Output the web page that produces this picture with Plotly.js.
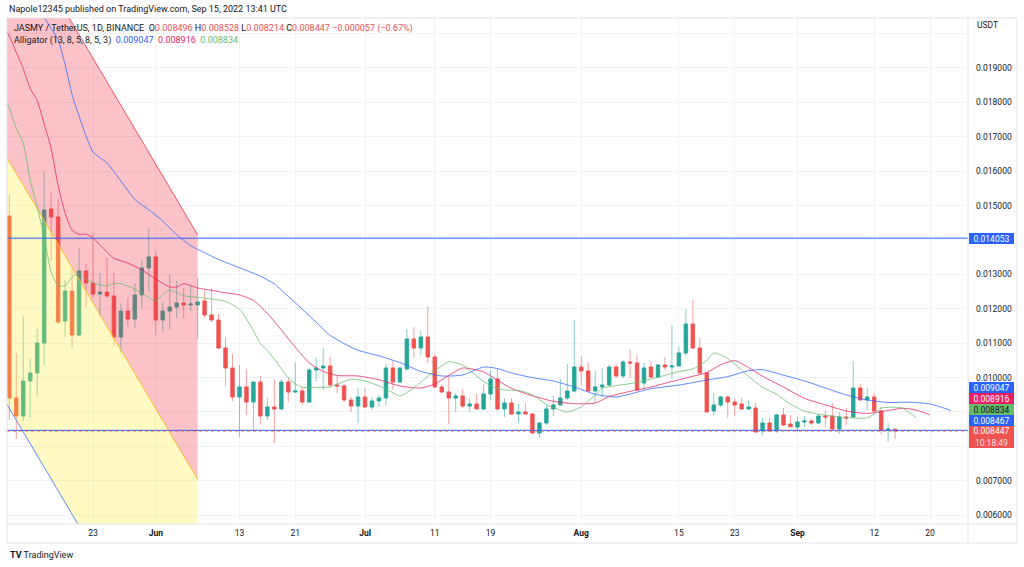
<!DOCTYPE html>
<html>
<head>
<meta charset="utf-8">
<script src="https://cdn.plot.ly/plotly-3.0.1.min.js"></script>
<style>html,body{margin:0;padding:0;background:#fff}#chart{width:1024px;height:567px}</style>
</head>
<body>
<div id="chart"></div>
<script>
// ---------------- DATA ----------------
const candleDates = [
'2022-05-11','2022-05-12','2022-05-13','2022-05-14','2022-05-15','2022-05-16','2022-05-17','2022-05-18','2022-05-19','2022-05-20','2022-05-21','2022-05-22','2022-05-23','2022-05-24','2022-05-25','2022-05-26','2022-05-27','2022-05-28','2022-05-29','2022-05-30','2022-05-31',
'2022-06-01','2022-06-02','2022-06-03','2022-06-04','2022-06-05','2022-06-06','2022-06-07','2022-06-08','2022-06-09','2022-06-10','2022-06-11','2022-06-12','2022-06-13','2022-06-14','2022-06-15','2022-06-16','2022-06-17','2022-06-18','2022-06-19','2022-06-20','2022-06-21','2022-06-22','2022-06-23','2022-06-24','2022-06-25','2022-06-26','2022-06-27','2022-06-28','2022-06-29','2022-06-30',
'2022-07-01','2022-07-02','2022-07-03','2022-07-04','2022-07-05','2022-07-06','2022-07-07','2022-07-08','2022-07-09','2022-07-10','2022-07-11','2022-07-12','2022-07-13','2022-07-14','2022-07-15','2022-07-16','2022-07-17','2022-07-18','2022-07-19','2022-07-20','2022-07-21','2022-07-22','2022-07-23','2022-07-24','2022-07-25','2022-07-26','2022-07-27','2022-07-28','2022-07-29','2022-07-30','2022-07-31',
'2022-08-01','2022-08-02','2022-08-03','2022-08-04','2022-08-05','2022-08-06','2022-08-07','2022-08-08','2022-08-09','2022-08-10','2022-08-11','2022-08-12','2022-08-13','2022-08-14','2022-08-15','2022-08-16','2022-08-17','2022-08-18','2022-08-19','2022-08-20','2022-08-21','2022-08-22','2022-08-23','2022-08-24','2022-08-25','2022-08-26','2022-08-27','2022-08-28','2022-08-29','2022-08-30','2022-08-31',
'2022-09-01','2022-09-02','2022-09-03','2022-09-04','2022-09-05','2022-09-06','2022-09-07','2022-09-08','2022-09-09','2022-09-10','2022-09-11','2022-09-12','2022-09-13','2022-09-14','2022-09-15'
];
const opens = [
0.014698,0.009407,0.008884,0.009901,0.010134,0.011006,0.014900,0.014670,0.011645,0.012517,0.011238,0.013099,0.012750,0.012430,0.012488,0.012372,0.011180,0.011936,0.011703,0.012401,0.013186,
0.013506,0.011674,0.011936,0.012052,0.012169,0.012110,0.012110,0.012227,0.011820,0.011674,0.010860,0.010279,0.009436,0.009727,0.009291,0.009872,0.008884,0.009145,0.009087,0.009872,0.009581,0.009610,0.009291,0.010221,0.010279,0.010337,0.009785,0.009756,0.009349,0.009174,
0.009436,0.009145,0.009320,0.009407,0.010279,0.009872,0.010250,0.011122,0.010860,0.011180,0.010599,0.009727,0.009581,0.009407,0.009465,0.009174,0.009233,0.009087,0.009523,0.009959,0.009087,0.009262,0.008942,0.009000,0.008942,0.008390,0.008680,0.009087,0.009203,0.009407,0.009610,
0.010308,0.010192,0.009610,0.009727,0.009785,0.010308,0.010047,0.010453,0.010424,0.009843,0.010308,0.010018,0.010366,0.010308,0.010337,0.010715,0.011558,0.010860,0.010134,0.009029,0.009203,0.009436,0.009291,0.009233,0.009087,0.009116,0.008448,0.008680,0.008448,0.008913,0.008651,
0.008564,0.008709,0.008738,0.008680,0.008884,0.008884,0.008506,0.008855,0.008855,0.009698,0.009349,0.009436,0.009029,0.008477,0.008496
];
const highs = [
0.015308,0.010715,0.011791,0.010570,0.011413,0.015977,0.015366,0.015192,0.012837,0.013186,0.013767,0.013300,0.014203,0.013041,0.013477,0.013041,0.012140,0.012314,0.012750,0.013419,0.014320,
0.013680,0.012198,0.012983,0.012808,0.012605,0.012663,0.012895,0.012546,0.012605,0.011849,0.011180,0.010686,0.010366,0.010250,0.009872,0.010047,0.009407,0.009959,0.009959,0.009988,0.010453,0.009727,0.010279,0.010570,0.010860,0.010599,0.010047,0.009814,0.009436,0.009698,
0.009698,0.009436,0.009494,0.010395,0.010483,0.010308,0.011413,0.011471,0.011355,0.012081,0.010686,0.009785,0.010018,0.009552,0.009669,0.009407,0.009523,0.009814,0.010192,0.010279,0.009407,0.009407,0.009233,0.009262,0.008960,0.008709,0.009203,0.009465,0.009959,0.010395,0.011674,
0.010628,0.010453,0.010192,0.010279,0.010366,0.010395,0.010512,0.010802,0.010657,0.010424,0.010483,0.010395,0.010599,0.011529,0.010890,0.011994,0.012256,0.011151,0.010163,0.009552,0.009465,0.009465,0.009378,0.009407,0.009349,0.009262,0.008826,0.008826,0.008942,0.009116,0.008913,
0.008855,0.008884,0.008797,0.008942,0.009058,0.009262,0.009000,0.009116,0.010483,0.009814,0.009698,0.009552,0.009145,0.008680,0.008528
];
const lows = [
0.008767,0.008215,0.008738,0.008826,0.009436,0.010366,0.013390,0.011558,0.011180,0.010860,0.011200,0.012052,0.012314,0.011762,0.012314,0.010919,0.010715,0.011500,0.011442,0.012023,0.012488,
0.011238,0.011326,0.011384,0.011733,0.011733,0.011936,0.011122,0.011733,0.011616,0.010831,0.009756,0.009320,0.008273,0.008913,0.008448,0.008651,0.008767,0.008099,0.009058,0.009291,0.009552,0.009203,0.009262,0.009901,0.009640,0.009727,0.009552,0.009291,0.009000,0.008680,
0.009130,0.009058,0.009145,0.009203,0.009640,0.009843,0.010220,0.010570,0.010657,0.010424,0.009700,0.009552,0.008651,0.009000,0.009116,0.009000,0.009087,0.009060,0.009349,0.009029,0.008855,0.008913,0.008680,0.008920,0.008360,0.008244,0.008622,0.008884,0.009174,0.009349,0.009581,
0.009785,0.009581,0.009262,0.009436,0.009756,0.009988,0.009988,0.009988,0.009610,0.009640,0.009988,0.009988,0.010221,0.009988,0.010308,0.010628,0.010831,0.010105,0.008990,0.008913,0.009145,0.008826,0.008884,0.009070,0.009058,0.008390,0.008331,0.008419,0.008390,0.008593,0.008564,
0.008419,0.008564,0.008622,0.008651,0.008564,0.008477,0.008360,0.008622,0.008826,0.009320,0.009058,0.009000,0.008360,0.008128,0.008214
];
const closes = [
0.009407,0.008884,0.009901,0.010134,0.011006,0.014872,0.014670,0.011616,0.012517,0.011238,0.013099,0.012750,0.012430,0.012488,0.012372,0.011180,0.011936,0.011703,0.012401,0.013186,0.013506,
0.011674,0.011936,0.012052,0.012169,0.012110,0.012140,0.012198,0.011820,0.011674,0.010860,0.010279,0.009436,0.009727,0.009291,0.009872,0.008884,0.009145,0.009087,0.009872,0.009581,0.009610,0.009291,0.010221,0.010279,0.010337,0.009785,0.009756,0.009349,0.009174,0.009436,
0.009145,0.009320,0.009407,0.010279,0.009872,0.010279,0.011122,0.010860,0.011180,0.010599,0.009727,0.009581,0.009407,0.009465,0.009174,0.009233,0.009087,0.009523,0.009959,0.009087,0.009262,0.008942,0.009000,0.008942,0.008390,0.008680,0.009087,0.009203,0.009407,0.009610,0.010308,
0.010192,0.009610,0.009727,0.009785,0.010308,0.010047,0.010453,0.010424,0.009640,0.010279,0.010018,0.010366,0.010308,0.010337,0.010715,0.011558,0.010860,0.010134,0.009000,0.009203,0.009436,0.009291,0.009203,0.009087,0.009145,0.008419,0.008680,0.008448,0.008913,0.008622,0.008570,
0.008709,0.008738,0.008680,0.008884,0.008855,0.008506,0.008855,0.008826,0.009698,0.009349,0.009436,0.009029,0.008477,0.008504,0.008447
];

// Alligator
const jawDates = ['2022-05-14','2022-05-16','2022-05-17','2022-05-18','2022-05-19','2022-05-20','2022-05-21','2022-05-22','2022-05-23','2022-05-25','2022-05-27','2022-05-29','2022-05-31','2022-06-02','2022-06-04','2022-06-06','2022-06-08','2022-06-10','2022-06-12','2022-06-14','2022-06-16','2022-06-18','2022-06-20','2022-06-22','2022-06-24','2022-06-26','2022-06-28','2022-06-30','2022-07-03','2022-07-06','2022-07-09','2022-07-12','2022-07-15','2022-07-18','2022-07-20','2022-07-22','2022-07-25','2022-07-28','2022-07-31','2022-08-03','2022-08-06','2022-08-08','2022-08-11','2022-08-15','2022-08-19','2022-08-22','2022-08-25','2022-08-27','2022-08-30','2022-09-02','2022-09-05','2022-09-08','2022-09-11','2022-09-14','2022-09-17','2022-09-20','2022-09-23'];
const jawValues = [0.02170,0.020483,0.020154,0.019820,0.019096,0.018227,0.017605,0.017032,0.016558,0.016238,0.015715,0.015180,0.014880,0.014552,0.014154,0.013837,0.013628,0.013433,0.013273,0.013111,0.012948,0.012721,0.012358,0.011988,0.011610,0.011227,0.010988,0.010794,0.010631,0.010436,0.010180,0.010047,0.010076,0.010308,0.010264,0.010134,0.009997,0.009901,0.009727,0.009515,0.009436,0.009523,0.009677,0.009782,0.009930,0.010029,0.010203,0.010230,0.010070,0.009904,0.009698,0.009494,0.009349,0.009276,0.009285,0.009233,0.009047];

const teethDates = ['2022-05-10','2022-05-11','2022-05-12','2022-05-13','2022-05-14','2022-05-15','2022-05-16','2022-05-17','2022-05-18','2022-05-19','2022-05-20','2022-05-21','2022-05-22','2022-05-23','2022-05-24','2022-05-25','2022-05-26','2022-05-28','2022-05-30','2022-06-01','2022-06-03','2022-06-04','2022-06-05','2022-06-07','2022-06-09','2022-06-11','2022-06-13','2022-06-15','2022-06-17','2022-06-19','2022-06-21','2022-06-23','2022-06-25','2022-06-27','2022-06-30','2022-07-03','2022-07-06','2022-07-09','2022-07-11','2022-07-13','2022-07-15','2022-07-18','2022-07-20','2022-07-22','2022-07-25','2022-07-28','2022-07-31','2022-08-03','2022-08-05','2022-08-08','2022-08-11','2022-08-14','2022-08-17','2022-08-19','2022-08-21','2022-08-23','2022-08-25','2022-08-27','2022-08-30','2022-09-02','2022-09-05','2022-09-08','2022-09-11','2022-09-14','2022-09-16','2022-09-18','2022-09-20'];
const teethValues = [0.02030,0.01993,0.019453,0.018980,0.018404,0.018050,0.017372,0.016651,0.015581,0.014776,0.014285,0.014163,0.014174,0.014058,0.013855,0.013651,0.013465,0.013326,0.013128,0.012866,0.012634,0.012634,0.012730,0.012605,0.012538,0.012465,0.012401,0.012244,0.011863,0.011384,0.010884,0.010427,0.010180,0.010061,0.010047,0.009936,0.009756,0.009698,0.009814,0.010061,0.010279,0.010163,0.009922,0.009686,0.009471,0.009311,0.009241,0.009259,0.009450,0.009599,0.009727,0.009887,0.010038,0.010148,0.010375,0.010494,0.010291,0.010038,0.009724,0.009395,0.009206,0.009029,0.008959,0.009044,0.009108,0.009058,0.008916];

const lipsDates = ['2022-05-10','2022-05-11','2022-05-12','2022-05-13','2022-05-14','2022-05-15','2022-05-16','2022-05-17','2022-05-18','2022-05-19','2022-05-20','2022-05-21','2022-05-22','2022-05-23','2022-05-25','2022-05-26','2022-05-27','2022-05-29','2022-05-31','2022-06-01','2022-06-02','2022-06-03','2022-06-05','2022-06-07','2022-06-09','2022-06-11','2022-06-13','2022-06-14','2022-06-15','2022-06-16','2022-06-17','2022-06-18','2022-06-19','2022-06-20','2022-06-21','2022-06-22','2022-06-24','2022-06-26','2022-06-27','2022-06-29','2022-07-01','2022-07-03','2022-07-05','2022-07-06','2022-07-08','2022-07-10','2022-07-12','2022-07-13','2022-07-15','2022-07-17','2022-07-19','2022-07-21','2022-07-23','2022-07-25','2022-07-27','2022-07-29','2022-07-30','2022-08-01','2022-08-03','2022-08-04','2022-08-06','2022-08-09','2022-08-12','2022-08-15','2022-08-17','2022-08-19','2022-08-20','2022-08-21','2022-08-22','2022-08-23','2022-08-25','2022-08-27','2022-08-29','2022-08-31','2022-09-02','2022-09-05','2022-09-08','2022-09-11','2022-09-12','2022-09-13','2022-09-15','2022-09-16','2022-09-17','2022-09-18'];
const lipsValues = [0.018200,0.017843,0.017250,0.016805,0.015738,0.014970,0.014087,0.013073,0.012672,0.012672,0.012924,0.013029,0.012866,0.012756,0.012663,0.012733,0.012730,0.012570,0.012326,0.012235,0.012413,0.012547,0.012381,0.012334,0.012285,0.012215,0.011991,0.011703,0.011363,0.010991,0.010785,0.010535,0.010259,0.009994,0.009823,0.009721,0.009715,0.009727,0.009811,0.009948,0.009901,0.009756,0.009561,0.009465,0.009698,0.010035,0.010340,0.010460,0.010363,0.010044,0.009756,0.009640,0.009625,0.009500,0.009218,0.009058,0.009000,0.009148,0.009494,0.009692,0.009765,0.009860,0.010009,0.010174,0.010250,0.010503,0.010715,0.010663,0.010547,0.010395,0.010035,0.009715,0.009515,0.009227,0.009026,0.008904,0.008840,0.008826,0.008948,0.009116,0.009140,0.009116,0.008991,0.008834];

// Parallel channel drawing (anchor dates, prices)
const channelDates = ['2022-04-28','2022-06-07'];
const channelTop = [0.02783, 0.01415];
const channelMid = [0.02072, 0.00704];
const channelBottom = [0.01355, -0.00013];

// Horizontal lines
const hLevels = [0.014053, 0.008467];

// Axis ticks
const xTickDates = ['2022-05-23','2022-06-01','2022-06-13','2022-06-21','2022-07-01','2022-07-11','2022-07-19','2022-08-01','2022-08-15','2022-08-23','2022-09-01','2022-09-12','2022-09-20'];
const xTickLabels = ['23','<b>Jun</b>','13','21','<b>Jul</b>','11','19','<b>Aug</b>','15','23','<b>Sep</b>','12','20'];
const yTickValues = [0.006,0.007,0.008,0.009,0.010,0.011,0.012,0.013,0.014,0.015,0.016,0.017,0.018,0.019,0.020];

const countdown = '10:18:49';

// ---------------- LAYOUT HELPERS ----------------
const FONT = 'Roboto, "Noto Sans", sans-serif';
const TXT = '#131722';
const UP = '#26a69a', DN = '#ef5350';
const yMin = 0.005744, yMax = 0.020453;
const PL = 7, PR = 968, PT = 18, PB = 524;
const fx = x => (x - PL) / (PR - PL);
const fy = y => (PB - y) / (PB - PT);
const priceToPx = p => PT + (yMax - p) / (yMax - yMin) * (PB - PT);
const f6 = v => v.toFixed(6);

const n = closes.length;
const lastO = opens[n-1], lastH = highs[n-1], lastL = lows[n-1], lastC = closes[n-1];
const chg = lastC - closes[n-2];
const pct = chg / closes[n-2] * 100;
const minus = s => s.replace('-', '\u2212');

// ---------------- TRACES ----------------
const traces = [];
traces.push({type:'scatter', mode:'lines', x:[channelDates[0],channelDates[1],channelDates[1],channelDates[0]],
  y:[channelTop[0],channelTop[1],channelMid[1],channelMid[0]], fill:'toself', fillcolor:'rgba(242,54,69,0.3)',
  line:{width:0}, hoverinfo:'skip'});
traces.push({type:'scatter', mode:'lines', x:[channelDates[0],channelDates[1],channelDates[1],channelDates[0]],
  y:[channelMid[0],channelMid[1],channelBottom[1],channelBottom[0]], fill:'toself', fillcolor:'rgba(255,235,59,0.3)',
  line:{width:0}, hoverinfo:'skip'});
traces.push({type:'scatter', mode:'lines', x:channelDates, y:channelTop, line:{color:'#f7525f', width:1}, hoverinfo:'skip'});
traces.push({type:'scatter', mode:'lines', x:channelDates, y:channelMid, line:{color:'#fbc02d', width:1}, hoverinfo:'skip'});
traces.push({type:'scatter', mode:'lines', x:channelDates, y:channelBottom, line:{color:'#5b8cf6', width:1}, hoverinfo:'skip'});

// candles: wicks (light) then bodies (solid)
traces.push({type:'candlestick', x:candleDates, open:opens, high:highs, low:lows, close:closes,
  increasing:{line:{color:'rgba(38,166,154,0.55)', width:1}, fillcolor:'rgba(0,0,0,0)'},
  decreasing:{line:{color:'rgba(239,83,80,0.55)', width:1}, fillcolor:'rgba(0,0,0,0)'},
  whiskerwidth:0, hoverinfo:'skip'});
const bodyHigh = opens.map((o,i)=>Math.max(o,closes[i]));
const bodyLow = opens.map((o,i)=>Math.min(o,closes[i]));
traces.push({type:'candlestick', x:candleDates, open:opens, high:bodyHigh, low:bodyLow, close:closes,
  increasing:{line:{color:UP, width:0.6}, fillcolor:UP},
  decreasing:{line:{color:DN, width:0.6}, fillcolor:DN},
  whiskerwidth:0, hoverinfo:'skip'});

traces.push({type:'scatter', mode:'lines', x:jawDates, y:jawValues, line:{color:'#2962ff', width:1, shape:'spline', smoothing:0.6}, opacity:0.75, hoverinfo:'skip'});
traces.push({type:'scatter', mode:'lines', x:teethDates, y:teethValues, line:{color:'#e91e63', width:1, shape:'spline', smoothing:0.6}, opacity:0.75, hoverinfo:'skip'});
traces.push({type:'scatter', mode:'lines', x:lipsDates, y:lipsValues, line:{color:'#66bb6a', width:1, shape:'spline', smoothing:0.6}, opacity:0.75, hoverinfo:'skip'});

// ---------------- SHAPES ----------------
const border = '#e0e3eb';
const shapes = [];
hLevels.forEach(v => shapes.push({type:'line', xref:'paper', x0:0, x1:1, yref:'y', y0:v, y1:v, line:{color:'#2962ff', width:1}}));
shapes.push({type:'line', xref:'paper', x0:0, x1:1, yref:'y', y0:lastC, y1:lastC, line:{color:DN, width:1, dash:'dot'}});
const bx = [[PL,PT,1017,PT],[PL,PB,1017,PB],[PL,543,1017,543],[PL,PT,PL,543],[PR,PT,PR,543],[1017,PT,1017,543]];
bx.forEach(b => shapes.push({type:'line', xref:'paper', yref:'paper', x0:fx(b[0]), y0:fy(b[1]), x1:fx(b[2]), y1:fy(b[3]), line:{color:border, width:1}, layer:'above'}));

// ---------------- ANNOTATIONS ----------------
const ann = [];
ann.push({xref:'paper', yref:'paper', x:fx(7), y:fy(9), xanchor:'left', yanchor:'middle', showarrow:false,
  text:'Napole12345 published on TradingView.com, Sep 15, 2022 13:41 UTC', font:{family:FONT, size:9, color:TXT}});
const red = s => '<span style="color:'+DN+'">'+s+'</span>';
ann.push({xref:'paper', yref:'paper', x:fx(12), y:fy(28), xanchor:'left', yanchor:'middle', showarrow:false,
  text:'JASMY / TetherUS, 1D, BINANCE\u00a0\u00a0O'+red(f6(lastO))+'\u00a0H'+red(f6(lastH))+'\u00a0L'+red(f6(lastL))+'\u00a0C'+red(f6(lastC))+'\u00a0'+red(minus(f6(chg))+' ('+minus(pct.toFixed(2))+'%)'),
  font:{family:FONT, size:9, color:TXT}});
ann.push({xref:'paper', yref:'paper', x:fx(12), y:fy(41), xanchor:'left', yanchor:'middle', showarrow:false,
  text:'Alligator (13, 8, 5, 8, 5, 3)\u00a0\u00a0<span style="color:#2962ff">'+f6(jawValues[jawValues.length-1])+'</span>\u00a0\u00a0<span style="color:#e91e63">'+f6(teethValues[teethValues.length-1])+'</span>\u00a0\u00a0<span style="color:#66bb6a">'+f6(lipsValues[lipsValues.length-1])+'</span>',
  font:{family:FONT, size:9, color:TXT}});
ann.push({xref:'paper', yref:'paper', x:fx(975), y:fy(25), xanchor:'left', yanchor:'middle', showarrow:false,
  text:'USDT', font:{family:FONT, size:8.5, color:TXT}});
ann.push({xref:'paper', yref:'paper', x:fx(8), y:fy(555), xanchor:'left', yanchor:'middle', showarrow:false,
  text:'<b>TV</b> TradingView', font:{family:FONT, size:9, color:TXT}});

// stacked price labels on the right scale
const labels = [
  {p:lastC, text:f6(lastC)+'<br><span style="color:rgba(255,255,255,0.85)">'+countdown+'</span>', bg:'#ef5350', fg:'#ffffff', h:22},
  {p:hLevels[1], text:f6(hLevels[1]), bg:'#2962ff', fg:'#ffffff', h:11},
  {p:lipsValues[lipsValues.length-1], text:f6(lipsValues[lipsValues.length-1]), bg:'#66bb6a', fg:'#131722', h:11},
  {p:teethValues[teethValues.length-1], text:f6(teethValues[teethValues.length-1]), bg:'#e91e63', fg:'#ffffff', h:11},
  {p:jawValues[jawValues.length-1], text:f6(jawValues[jawValues.length-1]), bg:'#2962ff', fg:'#ffffff', h:11},
  {p:hLevels[0], text:f6(hLevels[0]), bg:'#2962ff', fg:'#ffffff', h:11}
];
let prevTop = Infinity;
const boxes = [];
labels.forEach(lb => {
  const top = Math.min(priceToPx(lb.p) - 5.5, prevTop - lb.h);
  prevTop = top;
  boxes.push([top, top + lb.h]);
  ann.push({xref:'paper', yref:'paper', x:fx(969), y:fy(top), xanchor:'left', yanchor:'top', showarrow:false,
    text:lb.text, bgcolor:lb.bg, borderwidth:0, borderpad:1, width:43, height:lb.h-2, align:'center', valign:'middle',
    font:{family:FONT, size:8.5, color:lb.fg}});
});
// price-scale labels hidden where a marker label covers them, or under the "USDT" caption
const shownTicks = yTickValues.filter(v => {
  const py = priceToPx(v);
  if (py < 36) return false;
  return !boxes.some(b => py >= b[0] && py <= b[1]);
});

const layout = {
  width:1024, height:567,
  margin:{l:PL, r:1024-PR, t:PT, b:567-PB, pad:0},
  paper_bgcolor:'#ffffff', plot_bgcolor:'#ffffff',
  showlegend:false,
  font:{family:FONT, size:8.5, color:TXT},
  xaxis:{type:'date', range:['2022-05-10 16:05','2022-09-25 10:45'], rangeslider:{visible:false},
    tickvals:xTickDates, ticktext:xTickLabels, showgrid:true, gridcolor:'#f0f3fa', gridwidth:1,
    zeroline:false, showline:false, ticks:'', tickfont:{family:FONT, size:8.5, color:TXT}, ticklabelstandoff:2, fixedrange:true},
  yaxis:{side:'right', range:[yMin, yMax], tickmode:'array', tickvals:shownTicks, tickformat:'.6f', showgrid:true, gridcolor:'#f0f3fa', gridwidth:1,
    minor:{tickmode:'array', tickvals:yTickValues, showgrid:true, gridcolor:'#f0f3fa', gridwidth:1, ticks:''},
    zeroline:false, showline:false, ticks:'', tickfont:{family:FONT, size:8.5, color:TXT}, ticklabelstandoff:7, fixedrange:true},
  shapes:shapes, annotations:ann
};

Plotly.newPlot('chart', traces, layout, {displayModeBar:false, staticPlot:true});
</script>
</body>
</html>
